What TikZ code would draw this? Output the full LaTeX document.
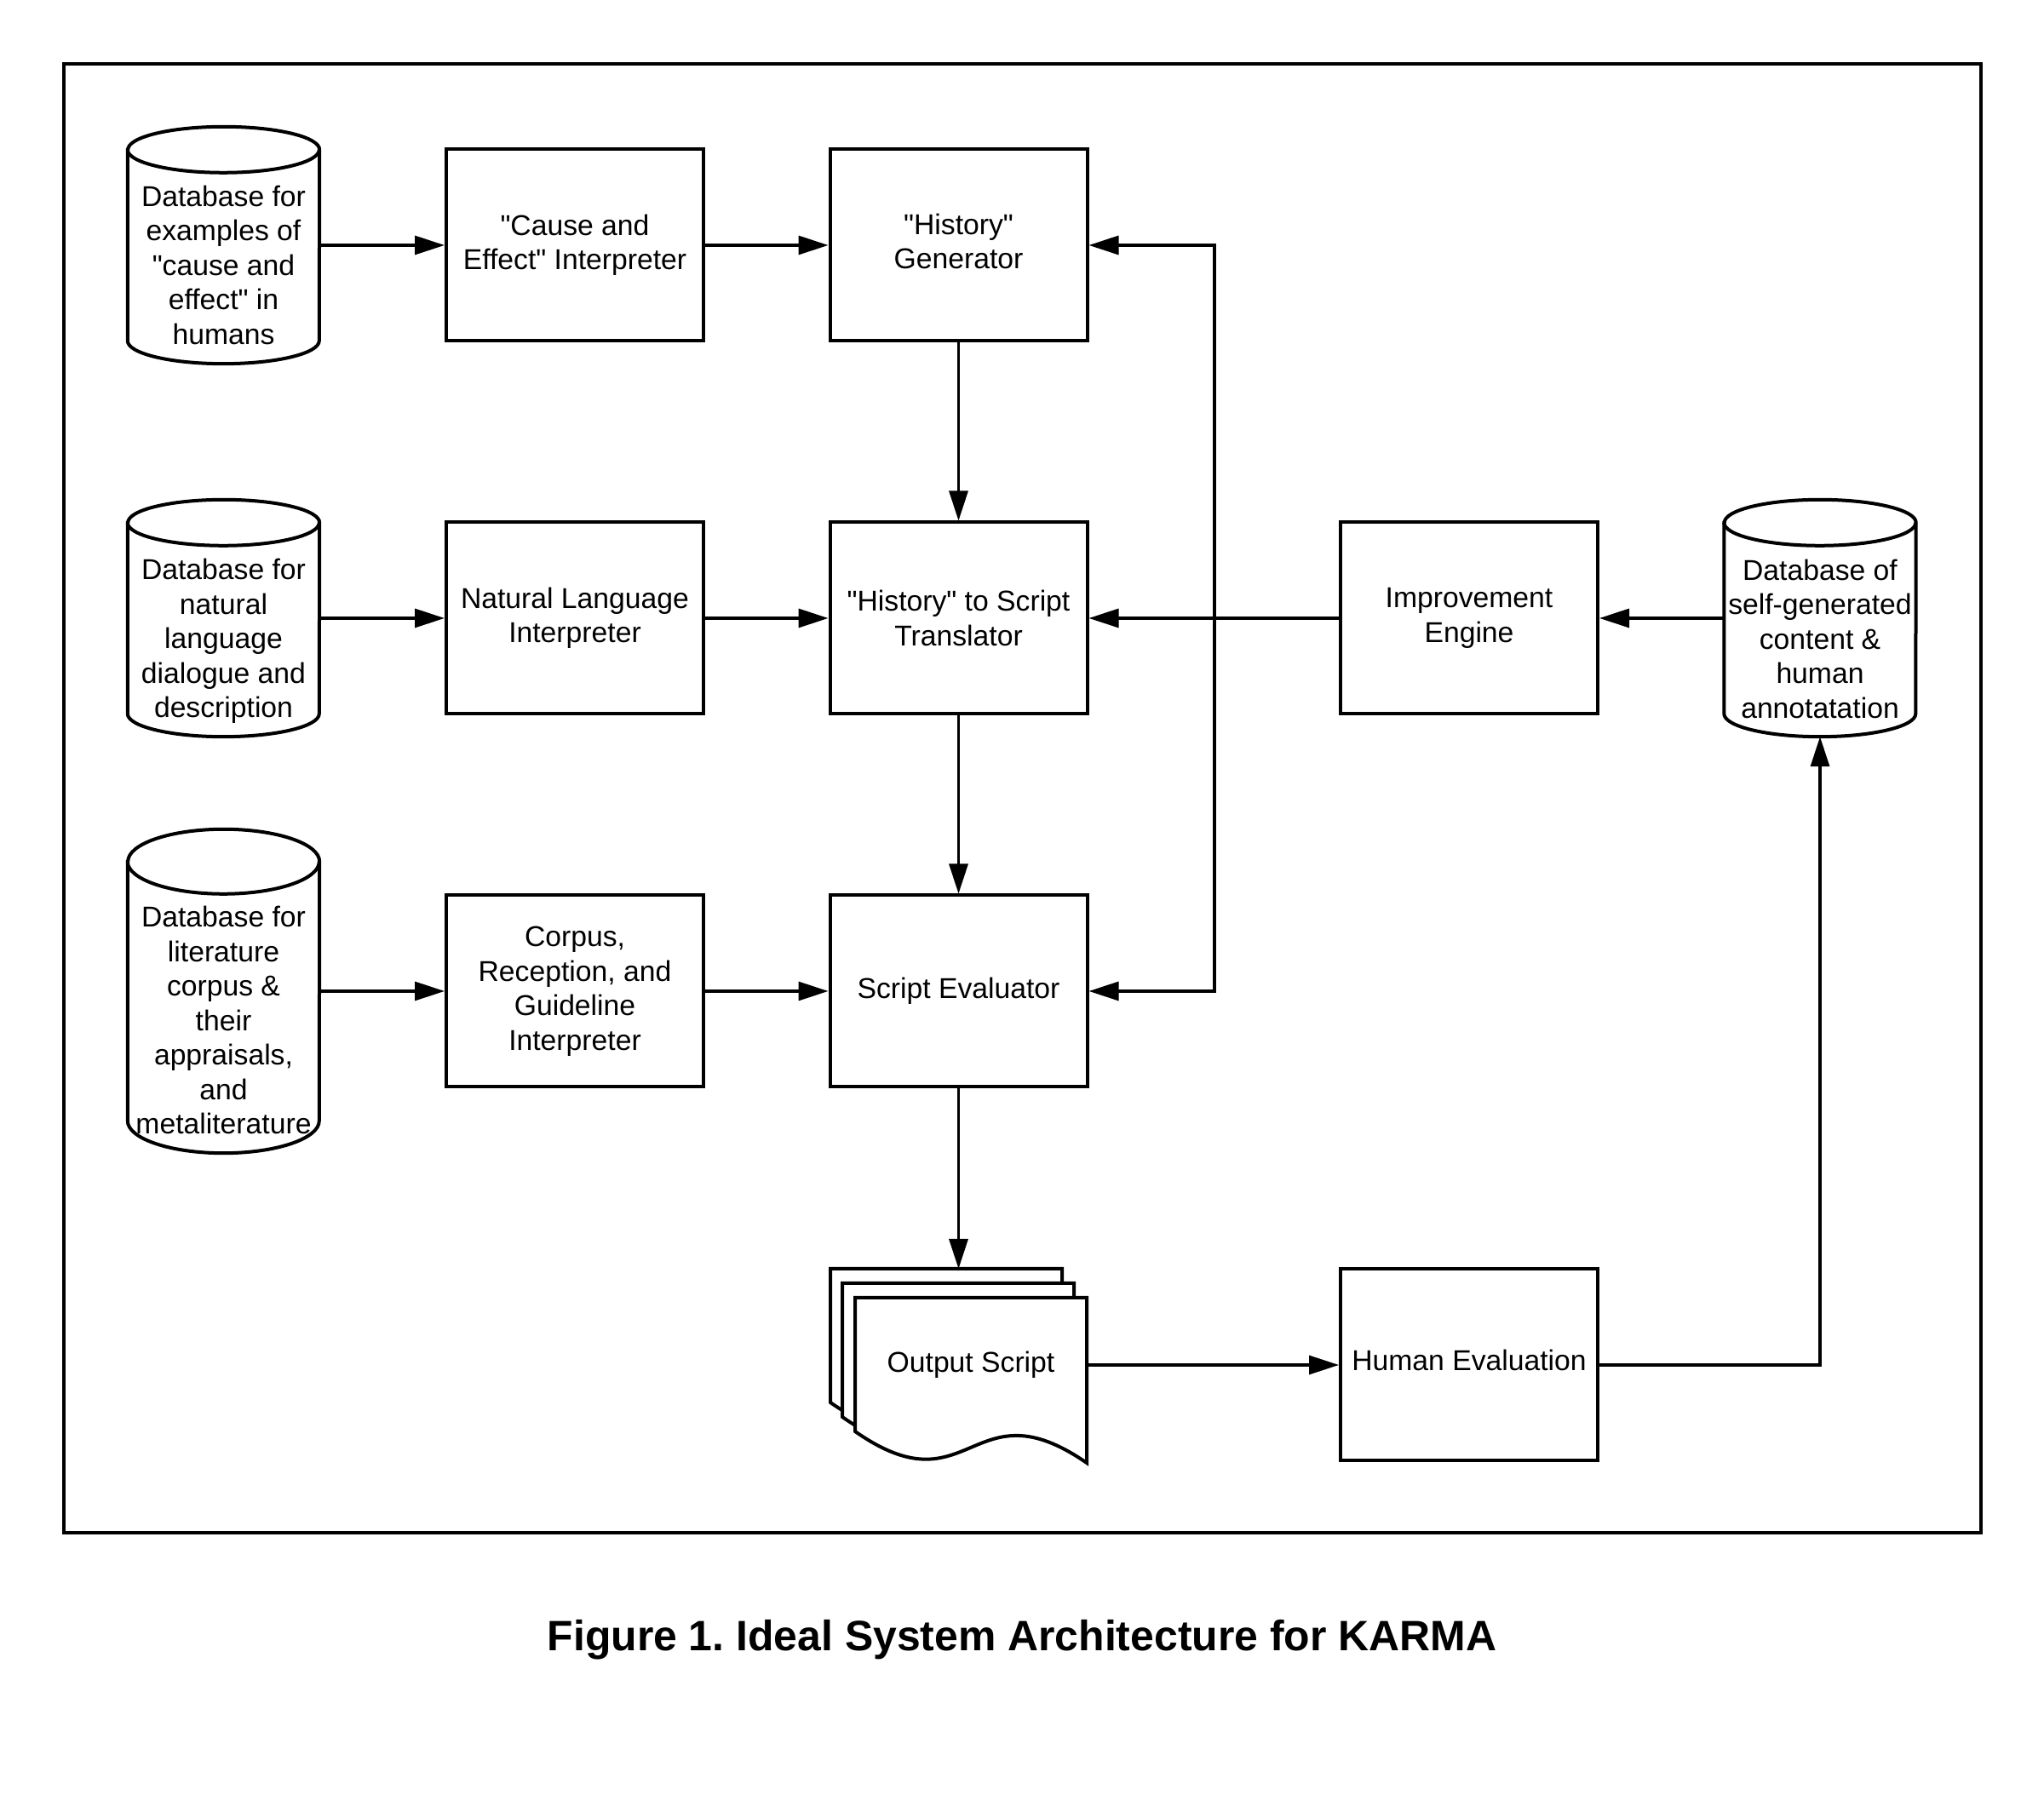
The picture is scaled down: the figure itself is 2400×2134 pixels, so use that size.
\documentclass[tikz,border=0pt]{standalone}
\usepackage{fontspec}
\setmainfont{Liberation Sans}[Ligatures=TeXOff]
\usetikzlibrary{arrows.meta,calc}
\newcommand\mycylout[2]{%
  \draw[outline] ($(#1.north west)+(0,-#2)$) -- ($(#1.south west)+(0,#2)$)
    arc[start angle=180,end angle=360,x radius=112.5,y radius=#2]
    -- ($(#1.north east)+(0,-#2)$)
    arc[start angle=0,end angle=180,x radius=112.5,y radius=#2] -- cycle;
  \draw[outline,fill=none] ($(#1.north west)+(0,-#2)$)
    arc[start angle=180,end angle=360,x radius=112.5,y radius=#2];}
\newcommand\mydepth[1]{\rule[-#1]{0pt}{#1}}
\frenchspacing
\begin{document}
\begin{tikzpicture}[x=1pt,y=1pt,
  bodyfont/.style={font=\fontsize{33.7}{40.5}\selectfont},
  box/.style={draw, line width=4pt, minimum width=302pt, minimum height=225pt,
    align=center, inner sep=0pt, bodyfont},
  cylarea/.style={minimum width=225pt, inner sep=0pt},
  txt/.style={align=center, inner sep=0pt, bodyfont},
  outline/.style={draw, line width=4pt, fill=white},
  arr/.style={line width=3.2pt, -{Triangle[length=35pt,width=22pt]}}]
\useasboundingbox (0,0) rectangle (2400,2134);
\node[draw, line width=4.5pt, minimum width=2251pt, minimum height=1725pt, inner sep=0pt]
  (frame) at (1200.5,1196.5) {};

% boxes
\node[box] (cae) at (675,1846) {"Cause and\\Effect" Interpreter};
\node[box] (gen) at (1125.5,1846) {"History"\\Generator\mydepth{9pt}};
\node[box] (nli) at (675,1408) {Natural Language\\Interpreter};
\node[box] (trans) at (1125.5,1408) {"History" to Script\\Translator};
\node[box] (imp) at (1725,1408) {Improvement\\Engine};
\node[box] (crg) at (675,970) {Corpus,\\Reception, and\\Guideline\\Interpreter};
\node[box] (eval) at (1125.5,970) {Script Evaluator};
\node[box] (hum) at (1725,531) {Human Evaluation\mydepth{12pt}};

% cylinders
\node[cylarea, minimum height=278pt] (cyl1) at (262.5,1846) {};
\node[cylarea, minimum height=278pt] (cyl2) at (262.5,1408) {};
\node[cylarea, minimum height=380pt] (cyl3) at (262.5,970) {};
\node[cylarea, minimum height=278pt] (cylr) at (2137,1408) {};
\mycylout{cyl1}{27}
\mycylout{cyl2}{27}
\mycylout{cyl3}{38}
\mycylout{cylr}{27}
\node[txt] (cyl1t) at (262.5,1823) {Database for\\examples of\\"cause and\\effect" in\\humans};
\node[txt] (cyl2t) at (262.5,1381) {Database for\\natural\\language\\dialogue and\\description};
\node[txt] (cyl3t) at (262.5,936) {Database for\\literature\\corpus \&\\their\\appraisals,\\and\\metaliterature};
\node[txt] (cylrt) at (2137,1384) {Database of\\self-generated\\content \&\\human\\annotatation};

% document stack
\foreach \x/\y in {975/644, 989/627, 1004/610} {
  \draw[outline] (\x,\y) -- (\x+272,\y) -- (\x+272,\y-194)
    .. controls (\x+136,\y-100) and (\x+136,\y-252) .. (\x,\y-157) -- cycle;
}
\node[minimum width=272pt, minimum height=194pt, inner sep=0pt] (docf) at (1140,513) {};
\node[txt] (doct) at (1140,531) {Output Script};
\coordinate (doctop) at (1125.5,644);

% connectors
\draw[arr] (cyl1.east) -- (cae.west);
\draw[arr] (cae.east) -- (gen.west);
\draw[arr] (cyl2.east) -- (nli.west);
\draw[arr] (nli.east) -- (trans.west);
\draw[arr] (cyl3.east) -- (crg.west);
\draw[arr] (crg.east) -- (eval.west);
\draw[arr] (gen.south) -- (trans.north);
\draw[arr] (trans.south) -- (eval.north);
\draw[arr] (eval.south) -- (doctop);
\draw[arr] (cylr.west) -- (imp.east);
\draw[arr] (imp.west) -- (trans.east);
\coordinate (j) at (1426,1408);
\draw[arr] (j) |- (gen.east);
\draw[arr] (j) |- (eval.east);
\draw[arr] (hum.west -| docf.east) -- (hum.west);
\draw[arr] (hum.east) -| (cylr.south);

% caption
\node[anchor=base, inner sep=0pt, font=\fontsize{49.9}{59}\selectfont\bfseries] (cap) at (1200,196)
  {Figure 1. Ideal System Architecture for KARMA};
\end{tikzpicture}
\end{document}
